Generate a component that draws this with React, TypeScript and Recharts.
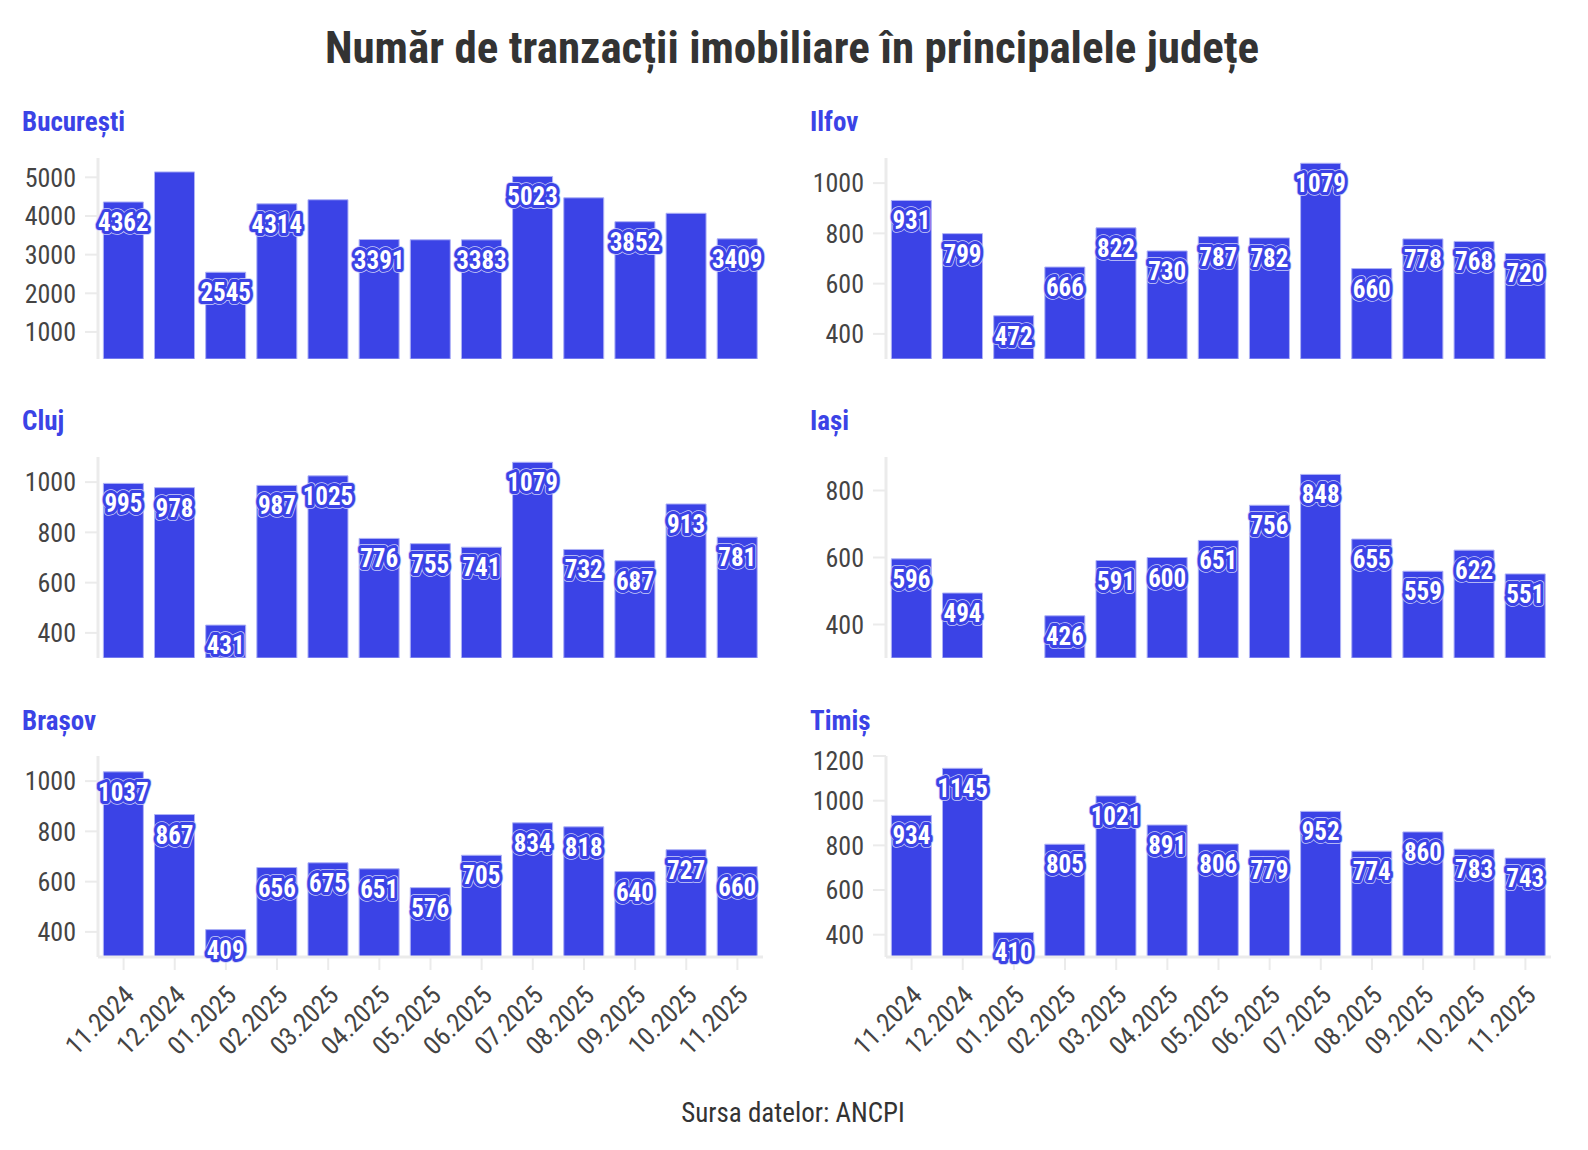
import { BarChart, Bar, XAxis, YAxis, LabelList } from "recharts";

// month categories shared by all panels
const MONTHS = [
  "11.2024", "12.2024", "01.2025", "02.2025", "03.2025", "04.2025", "05.2025",
  "06.2025", "07.2025", "08.2025", "09.2025", "10.2025", "11.2025",
];

// number of transactions per county
const BUCURESTI = [4362, 5140, 2545, 4314, 4420, 3391, 3385, 3383, 5023, 4470, 3852, 4070, 3409];
const ILFOV = [931, 799, 472, 666, 822, 730, 787, 782, 1079, 660, 778, 768, 720];
const CLUJ = [995, 978, 431, 987, 1025, 776, 755, 741, 1079, 732, 687, 913, 781];
const IASI = [596, 494, null, 426, 591, 600, 651, 756, 848, 655, 559, 622, 551];
const BRASOV = [1037, 867, 409, 656, 675, 651, 576, 705, 834, 818, 640, 727, 660];
const TIMIS = [934, 1145, 410, 805, 1021, 891, 806, 779, 952, 774, 860, 783, 743];

const BUCURESTI_TICKS = [1000, 2000, 3000, 4000, 5000];
const THOUSAND_TICKS = [400, 600, 800, 1000];
const IASI_TICKS = [400, 600, 800];
const TIMIS_TICKS = [400, 600, 800, 1000, 1200];

const BLUE = "#3b43e6";
const GRID = "#ebebeb";
const TEXT = "#444444";
const FONT = "'Roboto Condensed', 'Liberation Sans Narrow', Roboto, sans-serif";

const PLOT_W = 665;
const PLOT_H = 201;
const Y_AXIS_W = 98;

function makeLabel(values: (number | null)[]) {
  const boxes: ({ cx: number; cy: number; w: number } | null)[] = [];
  return (props: any) => {
    const { x, y, width, value } = props;
    if (value == null) return null;
    const i = typeof props.index === "number" ? props.index : values.indexOf(value);
    const text = String(value);
    const cx = Number(x) + Number(width) / 2;
    const cy = Number(y) + 20;
    const w = text.length * 12.6 + 6;
    let hidden = false;
    for (let j = 0; j < i; j++) {
      const b = boxes[j];
      if (b && Math.abs(b.cx - cx) < (b.w + w) / 2 && Math.abs(b.cy - cy) < 34) {
        hidden = true;
        break;
      }
    }
    boxes[i] = hidden ? null : { cx, cy, w };
    if (hidden) return null;
    const common = {
      x: cx,
      y: cy + 9,
      textAnchor: "middle" as const,
      fontFamily: FONT,
      fontWeight: 700,
      fontSize: 25,
      strokeLinejoin: "round" as const,
    };
    return (
      <g>
        <text {...common} fill="none" stroke="#c9ccf8" strokeWidth={7.5}>{text}</text>
        <text {...common} fill="none" stroke={BLUE} strokeWidth={6}>{text}</text>
        <text {...common} fill="#ffffff">{text}</text>
      </g>
    );
  };
}

function MonthTick(props: any) {
  const { x, y, payload } = props;
  const ax = x + 12;
  const ay = y + 25;
  return (
    <text
      x={ax}
      y={ay}
      transform={`rotate(-45, ${ax}, ${ay})`}
      textAnchor="end"
      fontFamily={FONT}
      fontSize={26}
      fill={TEXT}
    >
      {payload.value}
    </text>
  );
}

interface PanelProps {
  values: (number | null)[];
  domain: [number, number];
  ticks: number[];
  left: number;
  plotTop: number;
  showX?: boolean;
}

function Panel({ values, domain, ticks, left, plotTop, showX }: PanelProps) {
  const data = MONTHS.map((month, i) => ({ month, value: values[i] }));
  const xHeight = showX ? 110 : 0;
  return (
    <div style={{ position: "absolute", left, top: plotTop - 10 }}>
      <BarChart
        width={Y_AXIS_W + PLOT_W + 10}
        height={10 + PLOT_H + (showX ? xHeight : 10)}
        data={data}
        margin={{ top: 10, right: 10, bottom: showX ? 0 : 10, left: 0 }}
        barCategoryGap="10.5%"
      >
        <XAxis
          dataKey="month"
          hide={!showX}
          height={xHeight}
          interval={0}
          axisLine={{ stroke: GRID, strokeWidth: 3 }}
          tickLine={{ stroke: GRID, strokeWidth: 2 }}
          tickSize={13}
          tick={<MonthTick />}
        />
        <YAxis
          width={Y_AXIS_W}
          domain={domain}
          ticks={ticks}
          allowDataOverflow
          axisLine={{ stroke: GRID, strokeWidth: 3 }}
          tickLine={{ stroke: GRID, strokeWidth: 2 }}
          tickSize={13}
          tickMargin={9}
          tick={{ fill: TEXT, fontSize: 26, fontFamily: FONT }}
        />
        <Bar
          dataKey="value"
          fill={BLUE}
          stroke="#aeb2f6"
          strokeWidth={1}
          isAnimationActive={false}
        >
          <LabelList dataKey="value" content={makeLabel(values)} />
        </Bar>
      </BarChart>
    </div>
  );
}

const PANELS = [
  { name: "București", values: BUCURESTI, domain: [300, 5500], ticks: BUCURESTI_TICKS },
  { name: "Ilfov", values: ILFOV, domain: [300, 1100], ticks: THOUSAND_TICKS },
  { name: "Cluj", values: CLUJ, domain: [300, 1100], ticks: THOUSAND_TICKS },
  { name: "Iași", values: IASI, domain: [300, 900], ticks: IASI_TICKS },
  { name: "Brașov", values: BRASOV, domain: [300, 1100], ticks: THOUSAND_TICKS },
  { name: "Timiș", values: TIMIS, domain: [300, 1200], ticks: TIMIS_TICKS },
];

const COL_LEFT = [0, 788];
const COL_TITLE_X = [22, 810];
const ROW_PLOT_TOP = [158, 457, 756];
const ROW_TITLE_Y = [131, 430, 730];

export default function App() {
  return (
    <div style={{ position: "relative", width: 1588, height: 1150, background: "#fff" }}>
      <style>{"body{margin:0}"}</style>
      <svg width={1588} height={1150} style={{ position: "absolute", left: 0, top: 0 }}>
        <text
          x={792}
          y={63}
          textAnchor="middle"
          fontFamily={FONT}
          fontWeight={700}
          fontSize={45}
          fill="#333333"
        >
          Număr de tranzacții imobiliare în principalele județe
        </text>
        {PANELS.map((p, i) => (
          <text
            key={p.name}
            x={COL_TITLE_X[i % 2]}
            y={ROW_TITLE_Y[Math.floor(i / 2)]}
            fontFamily={FONT}
            fontWeight={700}
            fontSize={27}
            fill={BLUE}
          >
            {p.name}
          </text>
        ))}
        <text x={793} y={1122} textAnchor="middle" fontFamily={FONT} fontSize={27} fill="#333333">
          Sursa datelor: ANCPI
        </text>
      </svg>
      {PANELS.map((p, i) => (
        <Panel
          key={p.name}
          values={p.values}
          domain={p.domain as [number, number]}
          ticks={p.ticks}
          left={COL_LEFT[i % 2]}
          plotTop={ROW_PLOT_TOP[Math.floor(i / 2)]}
          showX={i >= 4}
        />
      ))}
    </div>
  );
}
